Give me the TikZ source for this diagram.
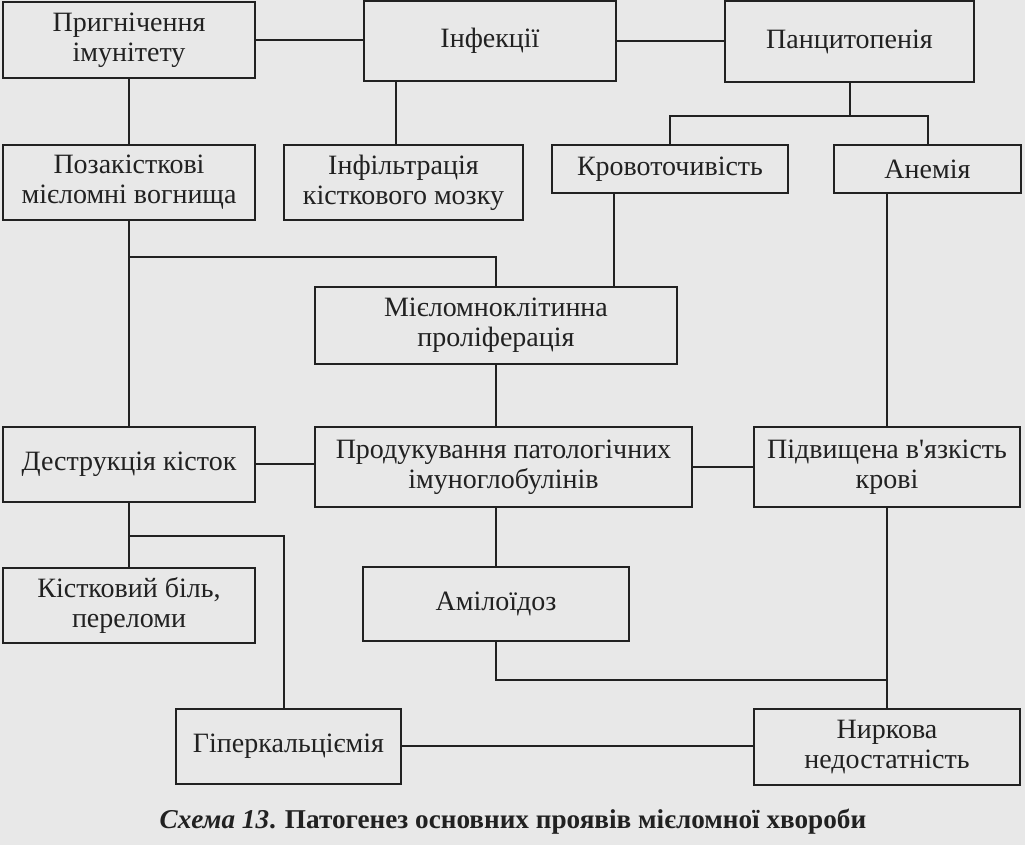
\documentclass[tikz,border=0pt]{standalone}
\usepackage{fontspec}
\setmainfont{Liberation Serif}[Ligatures=TeXOff]
\definecolor{paper}{gray}{0.91}
\definecolor{ink}{gray}{0.13}
\tikzset{
block/.style={rectangle, draw=ink, line width=1pt, text=ink, align=center, inner sep=0pt, font=\fontsize{14}{15}\selectfont},
boxsize/.style 2 args={minimum width=#1*0.5pt, minimum height=#2*0.5pt},
line/.style={draw=ink, line width=1pt}
}

\begin{document}
\begin{tikzpicture}[x=0.5pt, y=-0.5pt]
    \fill [paper] (0,0) rectangle (1025,845);
    \useasboundingbox (0,0) rectangle (1025,845);
    % Place nodes
    \node [block, boxsize={252}{76}] (pryhnich) at (129,40) {Пригнічення\\імунітету};
    \node [block, boxsize={252}{80}] (infekts) at (490,41) {Інфекції};
    \node [block, boxsize={249}{81}] (pantsyt) at (849.5,41.5) {Панцитопенія};
    \node [block, boxsize={252}{75}] (pozak) at (129,182.5) {Позакісткові\\мієломні вогнища};
    \node [block, boxsize={239}{75}] (infiltr) at (403.5,182.5) {Інфільтрація\\кісткового мозку};
    \node [block, boxsize={236}{48}] (krovot) at (670,169) {Кровоточивість};
    \node [block, boxsize={187}{48}] (anemiia) at (927.5,169) {Анемія};
    \node [block, boxsize={362}{77}] (mielom) at (496,325.5) {Мієломноклітинна\\проліферація};
    \node [block, boxsize={252}{75}] (destr) at (129,464.5) {Деструкція кісток};
    \node [block, boxsize={377}{80}] (produk) at (503.5,467) {Продукування патологічних\\імуноглобулінів};
    \node [block, boxsize={266}{80}] (pidvysh) at (887,467) {Підвищена в'язкість\\крові};
    \node [block, boxsize={252}{75}] (kistk) at (129,605.5) {Кістковий біль,\\переломи};
    \node [block, boxsize={266}{74}] (amiloid) at (496,604) {Амілоїдоз};
    \node [block, boxsize={225}{75}] (hiperk) at (288.5,746.5) {Гіперкальціємія};
    \node [block, boxsize={266}{76}] (nyrk) at (887,747) {Ниркова\\недостатність};
    \node [text=ink, font=\fontsize{13.6}{15}\selectfont\bfseries] (caption) at (513,822)
        {\textit{Схема 13}. Патогенез основних проявів мієломної хвороби};
    % Junction points
    \coordinate (infdown) at (396,0);
    \coordinate (krovdown) at (614,0);
    \coordinate (pantsj) at (850,116);
    \coordinate (mielj) at (0,257);
    \coordinate (hiperj) at (284,536);
    \coordinate (amilj) at (0,680);
    % Draw edges
    \path [line] (pryhnich.east) -- (pryhnich.east -| infekts.west);
    \path [line] (infekts.east) -- (infekts.east -| pantsyt.west);
    \path [line] (pryhnich) -- (pozak);
    \path [line] (infekts.south -| infdown) -- (infiltr.north -| infdown);
    \path [line] (pantsyt.south) -- (pantsyt.south |- pantsj);
    \path [line] (krovot.north) |- (pantsj) -| (anemiia.north);
    \path [line] (krovot.south -| krovdown) -- (mielom.north -| krovdown);
    \path [line] (anemiia.south -| pidvysh.north) -- (pidvysh.north);
    \path [line] (pozak) -- (destr);
    \path [line] (pozak.south |- mielj) -| (mielom.north);
    \path [line] (mielom.south) -- (mielom.south |- produk.north);
    \path [line] (destr.east) -- (destr.east -| produk.west);
    \path [line] (produk.east) -- (produk.east -| pidvysh.west);
    \path [line] (destr) -- (kistk);
    \path [line] (destr.south |- hiperj) -- (hiperj) -- (hiperj |- hiperk.north);
    \path [line] (produk.south -| amiloid.north) -- (amiloid.north);
    \path [line] (amiloid.south) |- (pidvysh.south |- amilj);
    \path [line] (pidvysh) -- (nyrk);
    \path [line] (hiperk.east) -- (hiperk.east -| nyrk.west);
\end{tikzpicture}
\end{document}
